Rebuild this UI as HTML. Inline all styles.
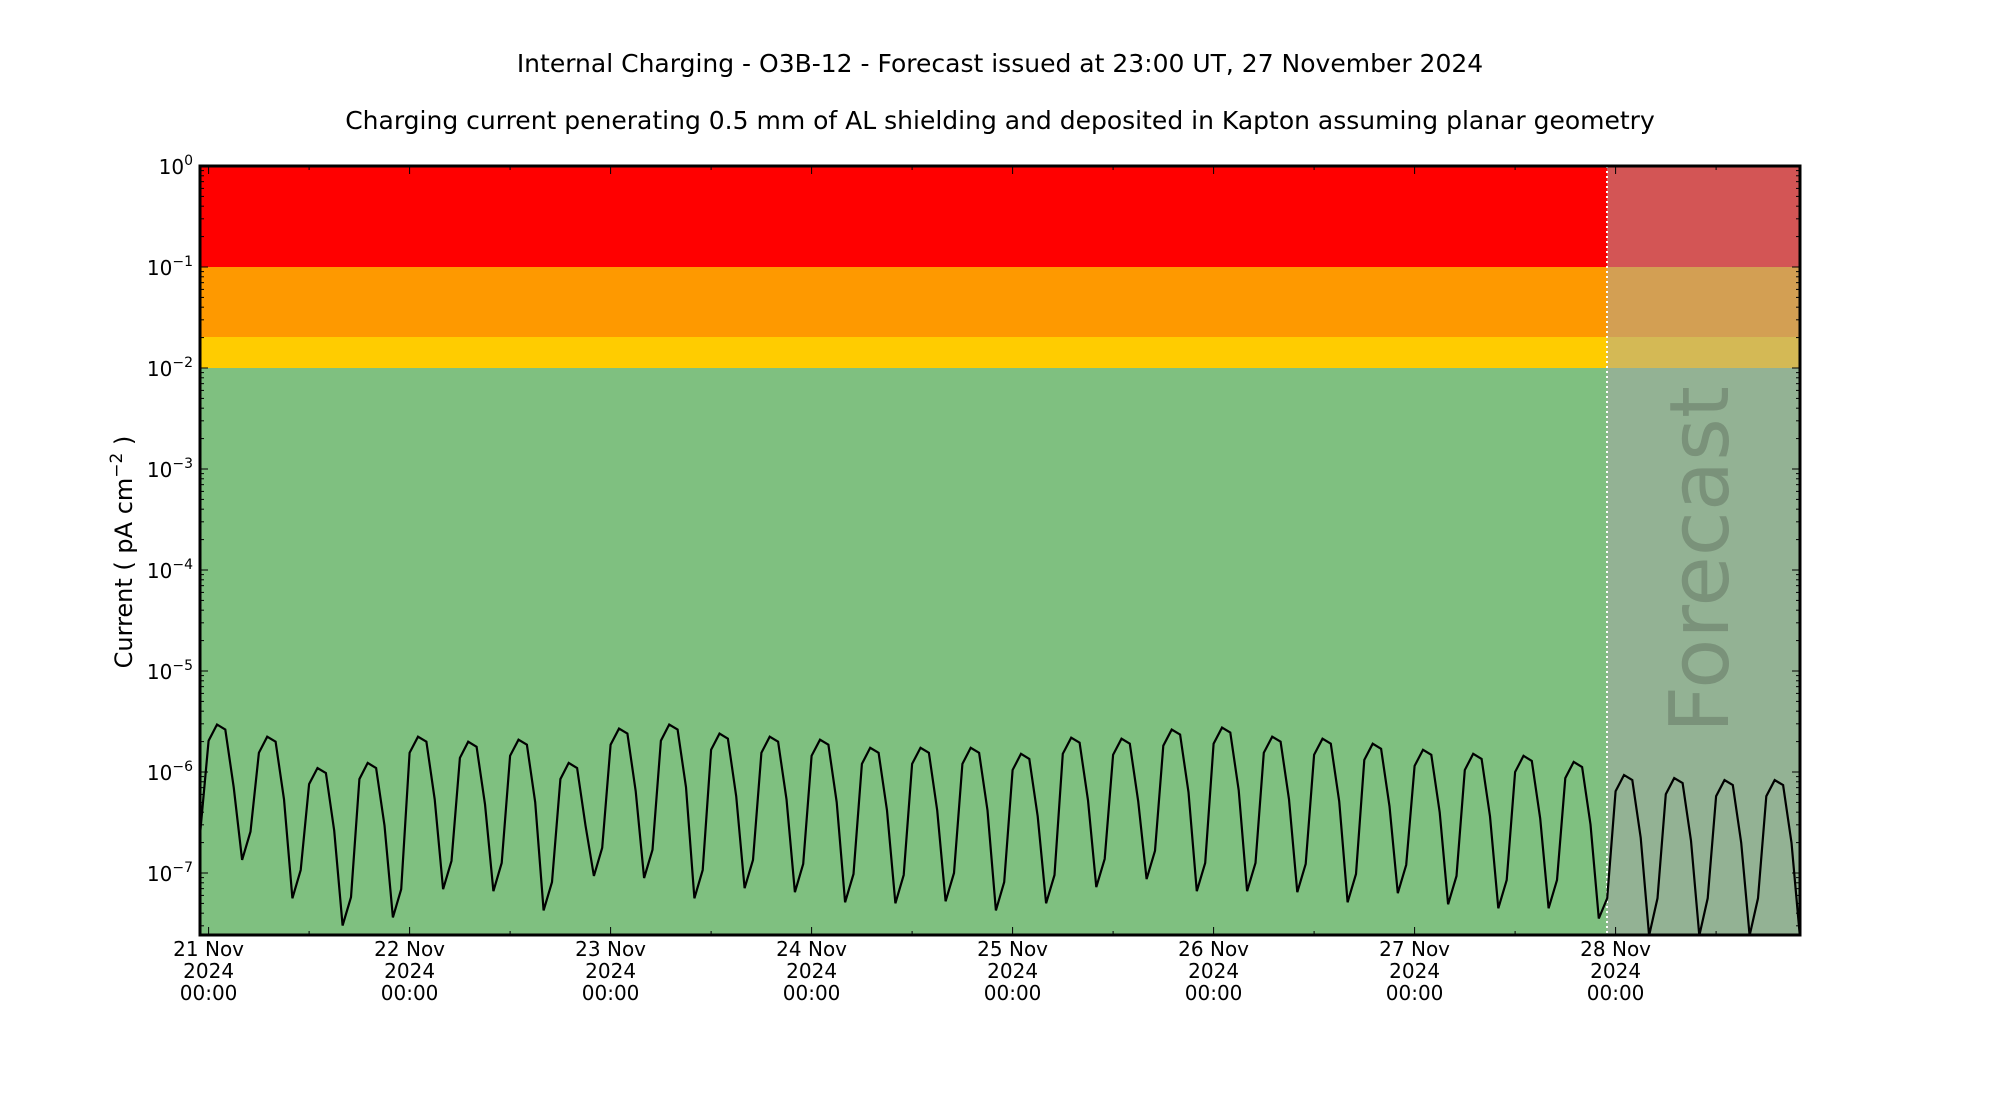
<!DOCTYPE html>
<html><head><meta charset="utf-8"><style>
html,body{margin:0;padding:0;background:#fff;}
svg{display:block;font-family:"DejaVu Sans","Liberation Sans",sans-serif;}
</style></head><body>
<svg id="s" width="2000" height="1100" viewBox="0 0 2000 1100" xmlns="http://www.w3.org/2000/svg">
<defs><clipPath id="c"><rect x="200" y="166" width="1600" height="769"/></clipPath></defs>
<text x="1000" y="72" text-anchor="middle" font-size="25">Internal Charging - O3B-12 - Forecast issued at 23:00 UT, 27 November 2024</text>
<text x="1000" y="129" text-anchor="middle" font-size="25">Charging current penerating 0.5 mm of AL shielding and deposited in Kapton assuming planar geometry</text>
<rect x="200" y="166" width="1407" height="101" fill="#ff0000"/>
<rect x="200" y="267" width="1407" height="70" fill="#fe9900"/>
<rect x="200" y="337" width="1407" height="31" fill="#ffcc00"/>
<rect x="200" y="368" width="1407" height="567" fill="#7fc080"/>
<rect x="1607" y="166" width="193" height="101" fill="#d35555"/>
<rect x="1607" y="267" width="193" height="70" fill="#d39f53"/>
<rect x="1607" y="337" width="193" height="31" fill="#d4b955"/>
<rect x="1607" y="368" width="193" height="567" fill="#93b294"/>
<text transform="translate(1728,733) rotate(-90)" font-size="82" fill="#7a927a">Forecast</text>
<line x1="1607" y1="166" x2="1607" y2="935" stroke="#fff" stroke-width="2" stroke-dasharray="2,3"/>
<g id="g"></g>
<rect x="200" y="166" width="1600" height="769" fill="none" stroke="#000" stroke-width="3"/>
<text transform="translate(132,552) rotate(-90)" text-anchor="middle" font-size="24">Current ( pA cm<tspan dy="-10" font-size="17">−2</tspan><tspan dy="10"> )</tspan></text>
</svg>
<script>
var NS="http://www.w3.org/2000/svg",g=document.getElementById('g');
function el(t,a,txt){var e=document.createElementNS(NS,t);for(var k in a)e.setAttribute(k,a[k]);if(txt!=null)e.textContent=txt;g.appendChild(e);return e;}
function Y(l){return 166-l*101;}
function X(h){return 208.6+h*8.375;}
var P=[-5.53,-5.65,-5.96,-5.91,-5.65,-5.70,-5.68,-5.91,-5.57,-5.53,-5.62,-5.65,-5.68,-5.76,-5.76,-5.76,-5.82,-5.66,-5.67,-5.58,-5.56,-5.65,-5.67,-5.72,-5.78,-5.82,-5.84,-5.90];
var T=[-6.87,-7.25,-7.52,-7.44,-7.16,-7.18,-7.37,-7.03,-7.05,-7.25,-7.15,-7.19,-7.29,-7.30,-7.28,-7.37,-7.30,-7.14,-7.06,-7.18,-7.18,-7.19,-7.29,-7.20,-7.31,-7.35,-7.35,-7.42];
var FP=[-6.03,-6.06,-6.08,-6.08];
var pts=[];
for(var h=-1;h<=190;h++){
 var k=Math.floor(h/6),m=((h%6)+6)%6,v,fc=h>=167;
 var pk=fc?FP[Math.max(0,Math.min(3,k-28))]:P[Math.max(0,Math.min(27,k))];
 var kt=(m>=4)?k:k-1; var tr=(h>=166)?(h==166?-7.45:-7.62):T[Math.max(0,Math.min(27,kt))];
 if(m==4)v=tr;else if(m==5)v=(h>=167?-7.25:tr+0.28);else if(m==0)v=pk-0.16;else if(m==1)v=pk;else if(m==2)v=pk-0.05;else v=pk-0.62;
 if(h==-1)v=-6.6;
 if(h==167)v=-7.25;
 pts.push(X(h).toFixed(1)+","+Y(v).toFixed(1));
}
el('polyline',{points:pts.join(' '),fill:'none',stroke:'#000','stroke-width':2.2,'clip-path':'url(#c)'});
for(var d=0;d>=-8;d--){
 for(var j=1;j<10;j++){
  var y=Y(d+Math.log10(j)); if(y<166||y>935)continue;
  var L=j==1?8:4;
  el('line',{x1:200,y1:y,x2:200+L,y2:y,stroke:'#000','stroke-width':1});
  el('line',{x1:1800,y1:y,x2:1800-L,y2:y,stroke:'#000','stroke-width':1});
 }
 if(d>=-7){
  var t=el('text',{x:193,y:Y(d)+8,'text-anchor':'end','font-size':20},'10');
  var s=document.createElementNS(NS,'tspan');s.setAttribute('dy','-9');s.setAttribute('font-size','14');s.textContent=d==0?'0':'−'+(-d);t.appendChild(s);
 }
}
var days=['21','22','23','24','25','26','27','28'];
for(var i=0;i<8;i++){
 var x=208.6+i*201;
 el('line',{x1:x,y1:935,x2:x,y2:927,stroke:'#000'});el('line',{x1:x,y1:166,x2:x,y2:174,stroke:'#000'});
 var xm=x+100.5; if(xm<1800){el('line',{x1:xm,y1:935,x2:xm,y2:931,stroke:'#000'});el('line',{x1:xm,y1:166,x2:xm,y2:170,stroke:'#000'});}
 el('text',{x:x,y:956,'text-anchor':'middle','font-size':20},days[i]+' Nov');
 el('text',{x:x,y:978,'text-anchor':'middle','font-size':20},'2024');
 el('text',{x:x,y:1000,'text-anchor':'middle','font-size':20},'00:00');
}
</script>
</body></html>
